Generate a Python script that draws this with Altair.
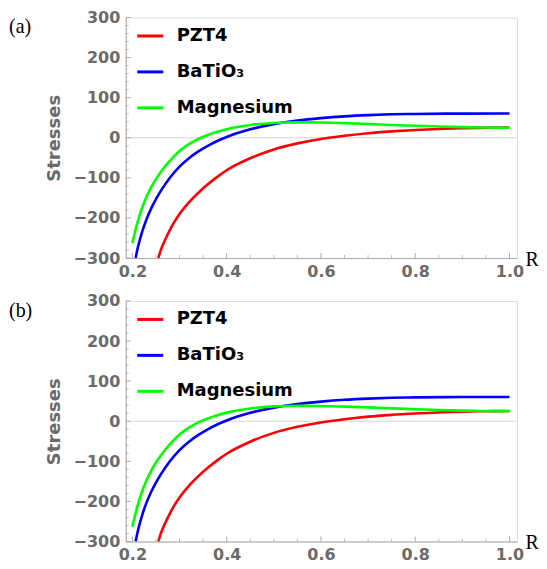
import altair as alt
import pandas as pd

# ---------------- data ----------------
series_names = ["PZT4", "BaTiO₃", "Magnesium"]
series_colors = ["#ff0000", "#0000ff", "#00ff00"]

# panel (a)
a_pzt4_r = [0.255, 0.26, 0.27, 0.28, 0.29, 0.30, 0.32, 0.34, 0.36, 0.38, 0.40, 0.45, 0.50, 0.55, 0.60, 0.65, 0.70, 0.75, 0.80, 0.85, 0.90, 0.95, 1.00]
a_pzt4_s = [-300, -281, -253, -229, -208, -190, -161, -137, -116, -97.5, -81, -51, -29, -14, -3, 5, 11.5, 16, 19.5, 22, 24, 25, 25.5]
a_bat_r = [0.207, 0.21, 0.215, 0.22, 0.23, 0.24, 0.25, 0.26, 0.28, 0.30, 0.32, 0.34, 0.36, 0.38, 0.40, 0.45, 0.50, 0.55, 0.60, 0.65, 0.70, 0.75, 0.80, 0.90, 1.00]
a_bat_s = [-300, -282, -258, -237, -203, -176, -153, -133, -99, -72, -51, -34, -20, -8, 2, 21, 34, 43, 49, 53.5, 56.5, 58.5, 59.5, 60.3, 60.5]
a_mg_r = [0.200, 0.205, 0.21, 0.215, 0.22, 0.23, 0.24, 0.25, 0.26, 0.27, 0.28, 0.30, 0.32, 0.34, 0.36, 0.38, 0.40, 0.45, 0.50, 0.55, 0.60, 0.65, 0.70, 0.75, 0.80, 0.85, 0.90, 0.95, 1.00]
a_mg_s = [-263, -238, -215, -195, -177, -147, -123, -103, -86, -70.5, -57, -33, -16, -3, 7, 15, 21.5, 32, 37, 38.5, 38, 36.5, 34.5, 32, 30, 28, 26.5, 25.5, 25]

# panel (b)
b_pzt4_r = [0.255, 0.26, 0.27, 0.28, 0.29, 0.30, 0.32, 0.34, 0.36, 0.38, 0.40, 0.45, 0.50, 0.55, 0.60, 0.65, 0.70, 0.75, 0.80, 0.85, 0.90, 0.95, 1.00]
b_pzt4_s = [-300, -281, -253, -229, -208, -190, -161, -137, -116, -97.5, -81, -51, -29, -14, -3, 5, 11.5, 16, 19.5, 22, 24, 25, 25.5]
b_bat_r = [0.207, 0.21, 0.215, 0.22, 0.23, 0.24, 0.25, 0.26, 0.28, 0.30, 0.32, 0.34, 0.36, 0.38, 0.40, 0.45, 0.50, 0.55, 0.60, 0.65, 0.70, 0.75, 0.80, 0.90, 1.00]
b_bat_s = [-300, -282, -258, -237, -203, -176, -153, -133, -99, -72, -51, -34, -20, -8, 2, 21, 34, 43, 49, 53.5, 56.5, 58.5, 59.5, 60.3, 60.5]
b_mg_r = [0.200, 0.205, 0.21, 0.215, 0.22, 0.23, 0.24, 0.25, 0.26, 0.27, 0.28, 0.30, 0.32, 0.34, 0.36, 0.38, 0.40, 0.45, 0.50, 0.55, 0.60, 0.65, 0.70, 0.75, 0.80, 0.85, 0.90, 0.95, 1.00]
b_mg_s = [-263, -238, -215, -195, -177, -147, -123, -103, -86, -70.5, -57, -33, -16, -3, 7, 15, 21.5, 32, 37, 38.5, 38, 36.5, 34.5, 32, 30, 28, 26.5, 25.5, 25]

x_tick_values = [0.2, 0.4, 0.6, 0.8, 1.0]
x_minor_values = [0.25, 0.3, 0.35, 0.45, 0.5, 0.55, 0.65, 0.7, 0.75, 0.85, 0.9, 0.95]
y_tick_values = [-300, -200, -100, 0, 100, 200, 300]
y_minor_values = [v for v in range(-280, 300, 20) if v % 100 != 0]

W, H = 392, 241
AX = "#aaaaaa"
LAB = "#6a6a6a"

xs = alt.Scale(domain=[0.186, 1.016], nice=False, zero=False)
ys = alt.Scale(domain=[-300, 300], nice=False, zero=False)

x_axis = alt.Axis(
    values=x_tick_values, format=".1f", ticks=False, grid=False,
    labelFont="DejaVu Sans", labelFontSize=16, labelFontWeight="bold", labelColor=LAB,
    labelPadding=5, labelFlush=False, labelOverlap=False,
    domainColor=AX, domainWidth=1,
    title="R", titleFont="Liberation Serif", titleFontSize=20, titleFontWeight="normal",
    titleColor="black", titleAngle=0, titleAlign="left", titleBaseline="middle",
    titleX=W + 8, titleY=1,
)
y_axis = alt.Axis(
    values=y_tick_values, ticks=False, grid=False,
    labelFont="DejaVu Sans", labelFontSize=16, labelFontWeight="bold", labelColor=LAB,
    labelPadding=6, labelFlush=False, labelOverlap=False,
    domainColor=AX, domainWidth=1,
    title="Stresses", titleFont="DejaVu Sans", titleFontSize=18, titleFontWeight="bold",
    titleColor=LAB, titlePadding=10,
)


def panel(tag, pr, ps, br, bs, mr, ms):
    rows = []
    for name, rr, ss in [(series_names[0], pr, ps), (series_names[1], br, bs), (series_names[2], mr, ms)]:
        for r, s in zip(rr, ss):
            rows.append({"r": r, "s": s, "series": name})
    df = pd.DataFrame(rows)

    zero = alt.Chart(pd.DataFrame({"s": [0]})).mark_rule(color="#d4d4d4", strokeWidth=1).encode(
        y=alt.Y("s:Q", scale=ys, axis=y_axis)
    )
    yt_major = alt.Chart(pd.DataFrame({"s": y_tick_values})).mark_rule(color=AX, strokeWidth=1).encode(
        y=alt.Y("s:Q", scale=ys, axis=y_axis), x=alt.value(0), x2=alt.value(5)
    )
    yt_minor = alt.Chart(pd.DataFrame({"s": y_minor_values})).mark_rule(color=AX, strokeWidth=0.8).encode(
        y=alt.Y("s:Q", scale=ys, axis=y_axis), x=alt.value(0), x2=alt.value(3)
    )
    xt_major = alt.Chart(pd.DataFrame({"r": x_tick_values})).mark_rule(color=AX, strokeWidth=1).encode(
        x=alt.X("r:Q", scale=xs, axis=x_axis), y=alt.value(H), y2=alt.value(H - 5)
    )
    xt_minor = alt.Chart(pd.DataFrame({"r": x_minor_values})).mark_rule(color=AX, strokeWidth=0.8).encode(
        x=alt.X("r:Q", scale=xs, axis=x_axis), y=alt.value(H), y2=alt.value(H - 3)
    )

    lines = alt.Chart(df).mark_line(strokeWidth=2.6, clip=True, interpolate="monotone").encode(
        x=alt.X("r:Q", scale=xs, axis=x_axis),
        y=alt.Y("s:Q", scale=ys, axis=y_axis),
        color=alt.Color(
            "series:N",
            scale=alt.Scale(domain=series_names, range=series_colors),
            sort=series_names,
            legend=alt.Legend(
                orient="none", legendX=10, legendY=4, direction="vertical",
                symbolType="stroke", symbolSize=676, symbolStrokeWidth=3,
                labelFont="DejaVu Sans", labelFontSize=18, labelFontWeight="bold", labelColor="black",
                labelOffset=12, rowPadding=12, title=None, padding=0,
            ),
        ),
    )

    label = alt.Chart(pd.DataFrame({"t": [tag]})).mark_text(
        font="Liberation Serif", fontSize=20, align="left", baseline="middle", color="black"
    ).encode(text="t:N", x=alt.value(-117), y=alt.value(10))

    return alt.layer(zero, yt_minor, yt_major, xt_minor, xt_major, lines, label).properties(width=W, height=H)


top = panel("(a)", a_pzt4_r, a_pzt4_s, a_bat_r, a_bat_s, a_mg_r, a_mg_s)
bottom = panel("(b)", b_pzt4_r, b_pzt4_s, b_bat_r, b_bat_s, b_mg_r, b_mg_s)

chart = (
    alt.vconcat(top, bottom, spacing=12)
    .resolve_legend(color="independent")
    .properties(padding={"left": 0, "top": 0, "right": 0, "bottom": 0})
    .configure_view(strokeWidth=0)
    .configure(background="white")
)

chart.save("out.html", embed_options={"renderer": "svg", "actions": False})
